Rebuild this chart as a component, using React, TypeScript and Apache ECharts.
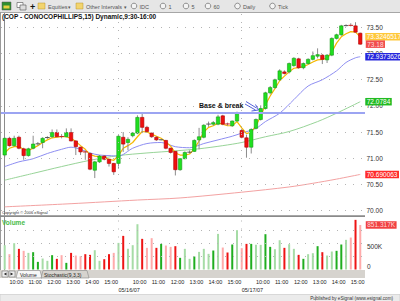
import React, { useEffect, useRef } from "react";
import * as echarts from "echarts";

const FONT = "'Liberation Sans', Arial, sans-serif";

// ---- sessions (15-minute bars) ----
const dayDates = ["05/15/07", "05/16/07", "05/17/07"];
const daySessions: [string, string][] = [
  ["09:45", "15:45"],
  ["09:30", "15:45"],
  ["09:30", "15:30"],
];

// ---- OHLC ----
const opens = [
  71.06, 71.38, 71.24, 71.40, 71.18, 71.05, 71.19, 71.27, 71.30, 71.39, 71.41, 71.49, 71.42, 71.41, 71.49, 71.33, 71.21, 71.13, 71.09, 70.77, 70.93, 71.04, 70.98, 70.90, 70.90,
  71.40, 71.30, 71.43, 71.48, 71.78, 71.59, 71.48, 71.40, 71.35, 71.34, 71.19, 71.13, 70.78, 70.99, 71.11, 71.13, 71.35, 71.40, 71.65, 71.65, 71.65, 71.81, 71.66, 71.62, 71.71, 71.53,
  71.39, 71.21, 71.57, 71.74, 71.95, 72.25, 72.35, 72.50, 72.65, 72.65, 72.77, 72.90, 72.73, 72.81, 72.89, 72.95, 72.97, 72.88, 72.97, 73.29, 73.36, 73.53, 73.55, 73.53, 73.39,
];
const closes = [
  71.38, 71.24, 71.38, 71.19, 71.05, 71.18, 71.27, 71.28, 71.38, 71.40, 71.49, 71.41, 71.41, 71.49, 71.33, 71.22, 71.12, 71.11, 70.79, 70.93, 71.04, 70.98, 70.90, 70.74, 71.42,
  71.27, 71.36, 71.48, 71.78, 71.59, 71.51, 71.41, 71.35, 71.355, 71.19, 71.11, 70.78, 70.99, 71.11, 71.12, 71.34, 71.41, 71.63, 71.655, 71.68, 71.79, 71.65, 71.65, 71.71, 71.86, 71.40,
  71.21, 71.55, 71.74, 71.95, 72.25, 72.35, 72.50, 72.67, 72.62, 72.81, 72.91, 72.73, 72.81, 72.89, 72.96, 72.98, 72.89, 72.97, 73.29, 73.36, 73.53, 73.54, 73.53, 73.41, 73.18,
];
const highs = [
  71.40, 71.41, 71.43, 71.43, 71.20, 71.20, 71.43, 71.31, 71.40, 71.42, 71.55, 71.55, 71.46, 71.57, 71.57, 71.34, 71.22, 71.15, 71.11, 70.95, 71.06, 71.06, 70.99, 70.91, 71.44,
  71.50, 71.40, 71.50, 71.82, 71.87, 71.62, 71.49, 71.42, 71.36, 71.35, 71.20, 71.14, 71.00, 71.13, 71.15, 71.36, 71.58, 71.65, 71.70, 71.71, 71.83, 71.83, 71.68, 71.72, 71.89, 71.56,
  71.45, 71.57, 71.76, 72.01, 72.27, 72.38, 72.52, 72.70, 72.68, 72.83, 72.93, 72.92, 72.83, 72.91, 73.04, 73.10, 72.99, 72.99, 73.31, 73.38, 73.55, 73.56, 73.58, 73.60, 73.40,
];
const lows = [
  71.02, 71.22, 71.22, 71.17, 70.97, 71.03, 71.17, 71.24, 71.19, 71.37, 71.39, 71.40, 71.38, 71.40, 71.32, 71.06, 71.06, 70.97, 70.77, 70.62, 70.91, 70.96, 70.84, 70.68, 70.80,
  71.12, 71.15, 71.40, 71.46, 71.48, 71.49, 71.39, 71.33, 71.34, 71.17, 71.09, 70.67, 70.76, 70.98, 71.09, 71.12, 71.17, 71.38, 71.60, 71.62, 71.63, 71.63, 71.62, 71.60, 71.70, 71.38,
  71.01, 71.09, 71.55, 71.72, 71.93, 72.22, 72.33, 72.48, 72.60, 72.62, 72.75, 72.71, 72.70, 72.79, 72.87, 72.91, 72.80, 72.82, 72.95, 73.27, 73.34, 73.52, 73.52, 73.40, 73.17,
];

// ---- volume (thousands) and tone (G up-dark, g up-light, R down-dark, r down-light) ----
const volumes = [
  465, 293, 503, 395, 357, 318, 331, 146, 210, 166, 274, 204, 274, 127, 318, 267, 255, 293, 280, 369, 166, 197, 293, 318, 509,
  643, 395, 465, 866, 586, 414, 599, 414, 490, 458, 433, 446, 223, 395, 204, 248, 337, 395, 299, 363, 681, 420, 325, 478, 752, 408,
  490, 490, 471, 471, 675, 433, 388, 560, 414, 484, 395, 280, 204, 293, 312, 446, 331, 267, 344, 357, 478, 567, 611, 949, 851.317,
];
const volumeTones = (
  "grgRrgGGggGRrGRrrRRggRRrg" +
  "RgggRrrRGrrRGggGgggGgrRGgr" +
  "RGggGGggRggRGggGRggGGgrRr"
).split("");

// ---- moving averages ----
const yellowMA = [
  71.10, 71.19, 71.22, 71.22, 71.17, 71.15, 71.19, 71.24, 71.30, 71.35, 71.39, 71.40, 71.41, 71.41, 71.38, 71.32, 71.24, 71.17, 71.07, 71.04, 71.03, 71.01, 70.98, 70.96, 71.05,
  71.19, 71.24, 71.30, 71.41, 71.51, 71.50, 71.46, 71.42, 71.38, 71.31, 71.23, 71.10, 71.06, 71.06, 71.08, 71.18, 71.33, 71.50, 71.59, 71.62, 71.67, 71.65, 71.62, 71.62, 71.70, 71.58,
  71.47, 71.50, 71.62, 71.80, 72.02, 72.19, 72.33, 72.48, 72.57, 72.65, 72.72, 72.73, 72.75, 72.79, 72.84, 72.88, 72.89, 72.91, 73.03, 73.20, 73.32, 73.38, 73.42, 73.41, 73.32,
];
const blueMA: [number, number][] = [
  [0, 70.84], [3, 70.93], [6, 70.99], [9, 71.09], [12, 71.17], [14, 71.21], [16, 71.17], [18, 71.10], [20, 71.06], [22, 71.05], [24, 71.04],
  [27, 71.19], [30, 71.28], [33, 71.30], [36, 71.22], [39, 71.20], [42, 71.28], [45, 71.35], [48, 71.42], [50, 71.48],
  [53, 71.57], [55, 71.70], [58, 71.86], [61, 72.12], [64, 72.38], [67, 72.50], [70, 72.67], [72, 72.83], [74, 72.92], [75, 72.94],
];
const greenMA: [number, number][] = [
  [0, 70.58], [6, 70.71], [12, 70.84], [18, 70.96], [24, 71.05], [30, 71.10], [36, 71.14], [41, 71.18], [46, 71.24], [50, 71.30],
  [55, 71.41], [60, 71.51], [66, 71.70], [70, 71.86], [75, 72.08],
];
const redMA: [number, number][] = [
  [0, 70.07], [14, 70.13], [28, 70.20], [37, 70.24], [50, 70.35], [60, 70.45], [65, 70.52], [70, 70.60], [75, 70.69],
];

// ---- reference texts ----
const yellowLast = "73.3246517";
const blueLast = "72.9373626";
const greenLast = "72.0784";
const redLast = "70.690063";
const closeLast = "73.18";
const volumeLast = "851.317K";
const breakoutLevel = 71.87;
const priceTicks = [70, 70.5, 71, 71.5, 72, 72.5, 73, 73.5];
const volumeTicks = [0, 500];
const volumeGridValues = [250, 500, 750];

// ---- axis extents ----
const priceAxisMin = 69.914;
const priceAxisMax = 73.776;
const volumeAxisMax = 1000;
const xAxisMin = -0.78;
const xAxisMax = 76;

// derived time/date labels
function toMin(t: string) {
  const [h, m] = t.split(":").map(Number);
  return h * 60 + m;
}
const times: string[] = [];
const dates: string[] = [];
daySessions.forEach(([s, e], d) => {
  for (let m = toMin(s); m <= toMin(e); m += 15) {
    const h = Math.floor(m / 60);
    const mm = m % 60;
    times.push(`${h < 10 ? "0" + h : h}:${mm < 10 ? "0" + mm : mm}`);
    dates.push(dayDates[d]);
  }
});
const hourIdx = times.map((t, i) => (t.endsWith(":00") ? i : -1)).filter((i) => i >= 0);
const dayBreakIdx = dates.map((d, i) => (i < dates.length - 1 && dates[i + 1] !== d ? i : -1)).filter((i) => i >= 0);

const toneColor: Record<string, string> = { G: "#1fae1f", g: "#a6dca6", R: "#ee1414", r: "#ffabab" };

export default function App() {
  const ref = useRef<HTMLDivElement>(null);
  useEffect(() => {
    if (!ref.current) return;
    const chart = echarts.init(ref.current, undefined, { renderer: "svg" });
    const n = opens.length;
    const candleData = opens.map((o, i) => [i, o, closes[i], lows[i], highs[i]]);
    const dotted = { color: "#b4b4b4", type: [1, 7] as any, width: 1 };
    const lblBox = (bg: string) => ({
      show: true,
      color: "#fff",
      backgroundColor: bg,
      fontSize: 6.5,
      fontFamily: FONT,
      padding: [0.5, 1.5, 0, 1.5],
      lineHeight: 7,
    });

    const option: any = {
      animation: false,
      textStyle: { fontFamily: FONT },
      grid: [
        { left: 1, top: 13, width: 364, height: 202 },
        { left: 1, top: 217.2, width: 364, height: 52.3 },
      ],
      xAxis: [
        { type: "value", gridIndex: 0, min: xAxisMin, max: xAxisMax, show: false },
        {
          type: "value", gridIndex: 1, min: xAxisMin, max: xAxisMax,
          axisLine: { show: false }, axisTick: { show: false }, splitLine: { show: false },
          axisLabel: {
            customValues: hourIdx, formatter: (v: number) => times[Math.round(v)],
            align: "left", fontSize: 5.5, margin: 9, color: "#222", fontFamily: FONT,
          },
        },
        {
          type: "value", gridIndex: 1, min: xAxisMin, max: xAxisMax, position: "bottom", offset: 8.5,
          axisLine: { show: false }, axisTick: { show: false }, splitLine: { show: false },
          axisLabel: {
            customValues: dayBreakIdx, formatter: (v: number) => dates[Math.round(v) + 1],
            align: "left", fontSize: 5.5, margin: 9, color: "#222", fontFamily: FONT,
          },
        },
      ],
      yAxis: [
        {
          type: "value", gridIndex: 0, position: "right", min: priceAxisMin, max: priceAxisMax,
          axisLine: { show: true, lineStyle: { color: "#8c8c8c" } }, axisTick: { show: false }, splitLine: { show: false },
          axisLabel: {
            customValues: priceTicks, formatter: (v: number) => v.toFixed(2),
            fontSize: 6.5, margin: 1.5, color: "#333", fontFamily: FONT,
          },
        },
        {
          type: "value", gridIndex: 1, position: "right", min: 0, max: volumeAxisMax,
          axisLine: { show: true, lineStyle: { color: "#8c8c8c" } }, axisTick: { show: false }, splitLine: { show: false },
          axisLabel: {
            customValues: volumeTicks, formatter: (v: number) => (v === 0 ? "0\n" : "\n" + v + "K"),
            fontSize: 6.5, margin: 2, color: "#333", lineHeight: 7, fontFamily: FONT,
          },
        },
      ],
      series: [
        {
          type: "line", name: "MA-red", xAxisIndex: 0, yAxisIndex: 0, z: 1,
          data: redMA, smooth: 0.3, showSymbol: false,
          lineStyle: { color: "#f3a2a2", width: 1 },
          endLabel: { ...lblBox("#ff2a2a"), distance: 5, formatter: () => redLast },
          markLine: {
            silent: true, symbol: ["none", "none"], label: { show: false }, lineStyle: dotted,
            data: [...priceTicks.map((v) => ({ yAxis: v })), ...dayBreakIdx.map((i) => ({ xAxis: i }))],
          },
        },
        {
          type: "line", name: "MA-green", xAxisIndex: 0, yAxisIndex: 0, z: 2,
          data: greenMA, smooth: 0.3, showSymbol: false,
          lineStyle: { color: "#98d498", width: 1 },
          endLabel: { ...lblBox("#22bb22"), distance: 5, formatter: () => greenLast },
        },
        {
          type: "line", name: "MA-blue", xAxisIndex: 0, yAxisIndex: 0, z: 2,
          data: blueMA, smooth: 0.3, showSymbol: false,
          lineStyle: { color: "#8e8ef2", width: 1 },
          endLabel: { ...lblBox("#2626dc"), distance: 5, formatter: () => blueLast },
          markLine: {
            silent: true, symbol: ["none", "none"], label: { show: false },
            lineStyle: { color: "#9ca4f2", type: "solid", width: 2 },
            data: [{ yAxis: breakoutLevel }],
          },
        },
        {
          type: "line", name: "MA-yellow", xAxisIndex: 0, yAxisIndex: 0, z: 3,
          data: yellowMA.map((v, i) => [i, v]), showSymbol: false,
          lineStyle: { color: "#f6b800", width: 1.2 },
          endLabel: { ...lblBox("#ffc83a"), distance: 5, formatter: () => yellowLast },
        },
        {
          type: "custom", name: "COP", xAxisIndex: 0, yAxisIndex: 0, z: 4, clip: true,
          data: candleData,
          encode: { x: 0, y: [1, 2, 3, 4] },
          renderItem: (_p: any, api: any) => {
            const i = api.value(0), o = api.value(1), c = api.value(2), lo = api.value(3), hi = api.value(4);
            const pO = api.coord([i, o]);
            const x = pO[0];
            const yO = pO[1];
            const yC = api.coord([i, c])[1];
            const yL = api.coord([i, lo])[1];
            const yH = api.coord([i, hi])[1];
            const top = Math.min(yO, yC);
            const h = Math.abs(yO - yC);
            const up = c >= o;
            const children: any[] = [
              { type: "line", shape: { x1: x, y1: yH, x2: x, y2: yL }, style: { stroke: "#8c8c8c", lineWidth: 1 } },
            ];
            if (h < 1.2) {
              children.push({
                type: "line", shape: { x1: x - 2.3, y1: top + h / 2, x2: x + 2.3, y2: top + h / 2 },
                style: { stroke: up ? "#555" : "#cc2222", lineWidth: 1 },
              });
            } else {
              children.push({
                type: "rect", shape: { x: x - 1.7, y: top, width: 3.4, height: h },
                style: { fill: up ? "#1fe01f" : "#ee1010", stroke: up ? "#159a15" : "#b00000", lineWidth: 0.6 },
              });
            }
            return { type: "group", children };
          },
        },
        {
          type: "scatter", name: "last", xAxisIndex: 0, yAxisIndex: 0, z: 5,
          data: [[n - 1, closes[n - 1]]], symbolSize: 1, itemStyle: { color: "rgba(0,0,0,0)" },
          label: { ...lblBox("#ee2222"), position: "right", distance: 5, formatter: () => closeLast },
        },
        {
          type: "bar", name: "Volume", xAxisIndex: 1, yAxisIndex: 1, barWidth: 2, z: 3,
          data: volumes.map((v, i) => ({ value: [i, v], itemStyle: { color: toneColor[volumeTones[i]] } })),
          markLine: {
            silent: true, symbol: ["none", "none"], label: { show: false }, lineStyle: dotted,
            data: [...volumeGridValues.map((v) => ({ yAxis: v })), ...dayBreakIdx.map((i) => ({ xAxis: i }))],
          },
        },
        {
          type: "scatter", name: "lastVol", xAxisIndex: 1, yAxisIndex: 1, z: 5,
          data: [[n - 1, volumes[n - 1]]], symbolSize: 1, itemStyle: { color: "rgba(0,0,0,0)" },
          label: { ...lblBox("#ee1111"), position: "right", distance: 5, formatter: () => volumeLast },
        },
      ],
      graphic: [
        // toolbar
        { type: "rect", shape: { x: 0, y: 0, width: 400, height: 12 }, style: { fill: "#e6e6e6" }, z: 10 },
        { type: "line", shape: { x1: 0, y1: 12.5, x2: 400, y2: 12.5 }, style: { stroke: "#a6a6a6", lineWidth: 1 }, z: 10 },
        { type: "rect", shape: { x: 2, y: 2, width: 9, height: 8 }, style: { fill: "#2f8f2f", stroke: "#555", lineWidth: 0.5 }, z: 11 },
        { type: "rect", shape: { x: 3.5, y: 5.5, width: 6, height: 3 }, style: { fill: "#e8d040" }, z: 12 },
        { type: "rect", shape: { x: 17, y: 2.5, width: 6, height: 5 }, style: { fill: "#fff", stroke: "#666", lineWidth: 0.7 }, z: 11 },
        { type: "rect", shape: { x: 20, y: 5, width: 6, height: 5 }, style: { fill: "#ddd", stroke: "#666", lineWidth: 0.7 }, z: 11 },
        { type: "text", x: 30, y: 6.5, style: { text: "+", fontSize: 9, fontWeight: "bold", fill: "#111", verticalAlign: "middle", fontFamily: FONT }, z: 11 },
        { type: "rect", shape: { x: 38, y: 3, width: 7, height: 6 }, style: { fill: "#f2d46e", stroke: "#b8962e", lineWidth: 0.5 }, z: 11 },
        { type: "text", x: 48, y: 6.5, style: { text: "Equities", fontSize: 5.5, fill: "#555", verticalAlign: "middle", fontFamily: FONT }, z: 11 },
        { type: "text", x: 68, y: 6.5, style: { text: "▾", fontSize: 5, fill: "#555", verticalAlign: "middle", fontFamily: FONT }, z: 11 },
        { type: "rect", shape: { x: 76, y: 3, width: 7, height: 6 }, style: { fill: "#f2d46e", stroke: "#b8962e", lineWidth: 0.5 }, z: 11 },
        { type: "text", x: 86, y: 6.5, style: { text: "Other Intervals", fontSize: 5.5, fill: "#555", verticalAlign: "middle", fontFamily: FONT }, z: 11 },
        { type: "text", x: 124, y: 6.5, style: { text: "▾", fontSize: 5, fill: "#555", verticalAlign: "middle", fontFamily: FONT }, z: 11 },
        ...[
          [134, "IDC"], [163, "1"], [186, "5"], [208, "60"], [237.5, "Daily"], [272.5, "Tick"],
        ].flatMap(([cx, t]) => [
          { type: "circle", shape: { cx: cx as number, cy: 6, r: 2.8 }, style: { fill: "#f4f4f4", stroke: "#666", lineWidth: 0.7 }, z: 11 },
          { type: "text", x: (cx as number) + 5.5, y: 6.5, style: { text: t as string, fontSize: 5.5, fill: "#555", verticalAlign: "middle", fontFamily: FONT }, z: 11 },
        ]),
        // title
        { type: "text", x: 2, y: 16.5, style: { text: "(COP - CONOCOPHILLIPS,15) Dynamic,9:30-16:00", fontSize: 6.5, fontWeight: "bold", fill: "#111", verticalAlign: "middle", fontFamily: FONT }, z: 10 },
        // left border
        { type: "line", shape: { x1: 0.5, y1: 12, x2: 0.5, y2: 270 }, style: { stroke: "#9a9a9a", lineWidth: 1 }, z: 10 },
        // copyright
        { type: "text", x: 2, y: 212.5, style: { text: "Copyright © 2006 eSignal", fontSize: 4, fill: "#333", verticalAlign: "middle", fontFamily: FONT }, z: 10 },
        // panel separator
        { type: "rect", shape: { x: 0, y: 215.3, width: 365, height: 1.6 }, style: { fill: "#8a8a8a" }, z: 10 },
        { type: "text", x: 2, y: 222, style: { text: "Volume", fontSize: 6.5, fontWeight: "bold", fill: "#47bb47", verticalAlign: "middle", fontFamily: FONT }, z: 10 },
        // annotation
        { type: "text", x: 199, y: 105, style: { text: "Base & break", fontSize: 7, fontWeight: "bold", fill: "#111", verticalAlign: "middle", fontFamily: FONT }, z: 10 },
        { type: "line", shape: { x1: 246, y1: 101.5, x2: 256.5, y2: 108 }, style: { stroke: "#2a3ad0", lineWidth: 0.8 }, z: 10 },
        { type: "line", shape: { x1: 245, y1: 104, x2: 255.5, y2: 110 }, style: { stroke: "#2a3ad0", lineWidth: 0.8 }, z: 10 },
        { type: "polyline", shape: { points: [[251.5, 111], [258.5, 110], [255.5, 104.5]] }, style: { stroke: "#2a3ad0", lineWidth: 0.8, fill: "none" }, z: 10 },
        // tab bar
        { type: "rect", shape: { x: 0, y: 270, width: 365, height: 8 }, style: { fill: "#d6d3ce" }, z: 10 },
        { type: "rect", shape: { x: 2, y: 271, width: 6, height: 6 }, style: { fill: "#eee", stroke: "#777", lineWidth: 0.6 }, z: 11 },
        { type: "rect", shape: { x: 9, y: 271, width: 6, height: 6 }, style: { fill: "#eee", stroke: "#777", lineWidth: 0.6 }, z: 11 },
        { type: "polygon", shape: { points: [[6.5, 272.5], [6.5, 275.5], [3.8, 274]] }, style: { fill: "#222" }, z: 12 },
        { type: "polygon", shape: { points: [[10.5, 272.5], [10.5, 275.5], [13.2, 274]] }, style: { fill: "#222" }, z: 12 },
        { type: "polygon", shape: { points: [[16, 278], [18, 270.5], [40, 270.5], [42, 278]] }, style: { fill: "#f7f7f7", stroke: "#888", lineWidth: 0.6 }, z: 11 },
        { type: "text", x: 20, y: 274.5, style: { text: "Volume", fontSize: 5, fill: "#222", verticalAlign: "middle", fontFamily: FONT }, z: 12 },
        { type: "polygon", shape: { points: [[41, 278], [43, 270.5], [87, 270.5], [89, 278]] }, style: { fill: "#d6d3ce", stroke: "#888", lineWidth: 0.6 }, z: 11 },
        { type: "text", x: 44, y: 274.5, style: { text: "Stochastic(9,3,3)", fontSize: 5, fill: "#222", verticalAlign: "middle", fontFamily: FONT }, z: 12 },
        // status bar
        { type: "rect", shape: { x: 0, y: 294.5, width: 400, height: 7 }, style: { fill: "#ebebeb", stroke: "#c4c4c4", lineWidth: 0.6 }, z: 10 },
        { type: "line", shape: { x1: 315.5, y1: 295, x2: 315.5, y2: 301 }, style: { stroke: "#bcbcbc", lineWidth: 0.8 }, z: 11 },
        { type: "text", x: 393, y: 298, style: { text: "Published by eSignal (www.esignal.com)", fontSize: 4.6, fill: "#333", align: "right", verticalAlign: "middle", fontFamily: FONT }, z: 11 },
      ],
    };
    chart.setOption(option);
    return () => chart.dispose();
  }, []);
  return (
    <div
      ref={ref}
      style={{ position: "fixed", left: 0, top: 0, width: 400, height: 301, background: "#fff" }}
    />
  );
}
